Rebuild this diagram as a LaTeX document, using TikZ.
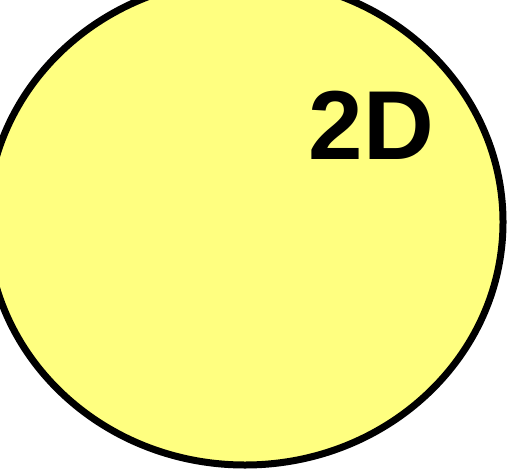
\documentclass[tikz,border=0pt]{standalone}
\usepackage{fontspec}
\setmainfont{Liberation Sans}
\usepackage{tikz}
\definecolor{discfill}{HTML}{FFFF80}

\begin{document}
\begin{tikzpicture}[
  x=1pt,y=1pt,
  disc/.style={draw=black,fill=discfill,line width=7pt},
  dimlabel/.style={font=\fontsize{98}{98}\selectfont\bfseries,inner sep=0pt}
]
\useasboundingbox (0,0) rectangle (510,469);
\clip (0,0) rectangle (510,469);
\coordinate (plane) at (245,247);
\draw[disc] (plane) ellipse [x radius=258, y radius=243];
\node[dimlabel] (dim) at (371.5,344) {2D};
\end{tikzpicture}
\end{document}
